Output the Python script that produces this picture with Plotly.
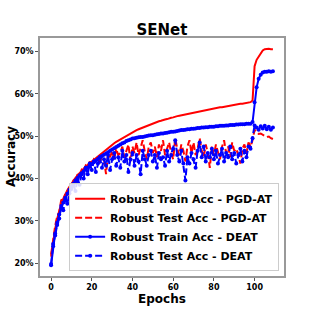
import plotly.graph_objects as go

epochs = list(range(110))

pgd_train = [21.5, 25.0, 28.0, 30.5, 32.5, 34.0, 35.2, 36.3, 37.2, 38.0,
             38.8, 39.5, 40.1, 40.7, 41.3, 41.8, 42.3, 42.8, 43.2, 43.6,
             44.0, 44.4, 44.8, 45.2, 45.6, 46.0, 46.4, 46.8, 47.2, 47.6,
             48.0, 48.3, 48.6, 48.9, 49.2, 49.5, 49.8, 50.1, 50.4, 50.7,
             51.0, 51.2, 51.4, 51.6, 51.8, 52.0, 52.2, 52.4, 52.6, 52.8,
             53.0, 53.2, 53.3, 53.5, 53.6, 53.8, 53.9, 54.0, 54.2, 54.3,
             54.4, 54.6, 54.7, 54.8, 54.9, 55.0, 55.2, 55.3, 55.4, 55.5,
             55.6, 55.7, 55.8, 55.9, 56.0, 56.1, 56.2, 56.3, 56.3, 56.4,
             56.5, 56.6, 56.7, 56.8, 56.8, 56.9, 57.0, 57.1, 57.2, 57.2,
             57.3, 57.4, 57.5, 57.6, 57.6, 57.7, 57.8, 57.9, 58.0, 58.4,
             66.5, 68.0, 68.8, 69.6, 70.2, 70.5, 70.6, 70.6, 70.5, 70.5]

pgd_test = [22.0, 25.5, 28.8, 31.0, 32.0, 35.0, 34.5, 36.5, 37.0, 36.0,
            38.5, 39.5, 39.0, 41.0, 40.5, 42.0, 41.5, 43.0, 42.5, 44.0,
            43.0, 44.5, 44.0, 45.0, 43.5, 45.5, 44.5, 41.0, 46.0, 45.0,
            46.5, 44.5, 47.0, 45.5, 46.0, 47.5, 45.0, 46.5, 48.0, 44.0,
            47.5, 46.0, 48.5, 45.5, 47.0, 49.0, 46.5, 44.5, 47.5, 48.5,
            46.0, 47.5, 45.0, 48.0, 46.5, 49.0, 45.5, 47.0, 48.5, 46.0,
            44.5, 49.5, 47.0, 45.5, 48.0, 46.5, 44.0, 47.5, 49.0, 46.0,
            48.5, 45.5, 47.0, 49.5, 46.5, 45.0, 48.0, 46.0, 42.5, 47.5,
            45.5, 48.0, 46.5, 44.5, 47.5, 49.0, 46.0, 47.5, 45.0, 48.5,
            46.5, 47.0, 45.5, 43.5, 47.0, 48.0, 46.0, 48.5, 47.5, 49.0,
            51.5, 51.0, 50.5, 50.6, 50.2, 50.0, 49.8, 49.9, 49.5, 49.3]

deat_train = [19.5, 24.0, 27.0, 29.5, 31.5, 33.0, 34.3, 35.4, 36.4, 37.3,
              38.1, 38.8, 39.5, 40.1, 40.7, 41.2, 41.7, 42.2, 42.6, 43.0,
              43.4, 43.8, 44.2, 44.6, 45.0, 45.3, 45.6, 45.9, 46.2, 46.5,
              46.8, 47.1, 47.4, 47.7, 48.0, 48.3, 48.5, 48.8, 49.0, 49.2,
              49.4, 49.5, 49.6, 49.7, 49.8, 49.8, 49.9, 50.0, 50.1, 50.2,
              50.2, 50.3, 50.4, 50.5, 50.6, 50.6, 50.7, 50.8, 50.9, 51.0,
              51.0, 51.1, 51.2, 51.3, 51.4, 51.4, 51.5, 51.6, 51.6, 51.7,
              51.7, 51.8, 51.9, 51.9, 52.0, 52.0, 52.1, 52.1, 52.2, 52.2,
              52.2, 52.3, 52.3, 52.4, 52.4, 52.4, 52.5, 52.5, 52.6, 52.6,
              52.6, 52.7, 52.7, 52.8, 52.8, 52.8, 52.9, 52.9, 52.9, 53.3,
              58.0, 61.5, 63.5, 64.5, 65.0, 65.2, 65.2, 65.3, 65.2, 65.3]

deat_test = [19.8, 24.5, 26.5, 29.0, 30.5, 33.5, 32.5, 35.0, 34.0, 36.5,
             37.5, 38.5, 37.0, 40.0, 38.5, 41.0, 40.0, 42.5, 41.0, 43.5,
             42.0, 44.0, 41.5, 43.5, 45.0, 42.5, 44.5, 43.0, 45.5, 42.0,
             44.5, 46.0, 43.0, 45.0, 42.5, 46.5, 44.0, 45.5, 41.5, 44.5,
             46.0, 43.0, 45.5, 44.0, 41.0, 46.5, 44.5, 43.0, 45.5, 46.5,
             44.0, 45.5, 42.5, 46.0, 44.5, 45.0, 43.0, 46.5, 44.0, 45.5,
             47.0, 49.0, 45.5, 44.0, 46.5, 43.5, 39.5, 45.0, 43.5, 46.0,
             44.5, 42.5, 46.5, 48.5, 45.0, 47.5, 44.0, 46.0, 45.0, 47.0,
             44.5, 46.5, 43.5, 45.5, 47.0, 44.0, 46.0, 45.0, 47.5, 44.5,
             46.0, 43.5, 45.5, 47.0, 44.0, 46.5, 45.0, 47.5, 47.0, 49.5,
             52.5, 52.0, 51.5, 52.3, 51.8, 52.4, 51.6, 52.2, 51.5, 52.0]

y_ticks = [20, 30, 40, 50, 60, 70]
y_tick_labels = ["20%", "30%", "40%", "50%", "60%", "70%"]
x_ticks = [0, 20, 40, 60, 80, 100]

series_names = ["Robust Train Acc - PGD-AT", "Robust Test Acc - PGD-AT",
                "Robust Train Acc - DEAT", "Robust Test Acc - DEAT"]

RED = "#ff0000"
BLUE = "#0000ff"
FONT = "DejaVu Sans"

fig = go.Figure()
fig.add_trace(go.Scatter(x=epochs, y=pgd_train, mode="lines", name=series_names[0],
                         line=dict(color=RED, width=2)))
fig.add_trace(go.Scatter(x=epochs, y=pgd_test, mode="lines", name=series_names[1],
                         line=dict(color=RED, width=2, dash="7px,3px")))
fig.add_trace(go.Scatter(x=epochs, y=deat_train, mode="lines+markers", name=series_names[2],
                         line=dict(color=BLUE, width=2), marker=dict(size=4, color=BLUE)))
fig.add_trace(go.Scatter(x=epochs, y=deat_test, mode="lines+markers", name=series_names[3],
                         line=dict(color=BLUE, width=2, dash="7px,3px"), marker=dict(size=4, color=BLUE)))

axis_common = dict(showgrid=False, zeroline=False, showline=True, mirror=True,
                   linecolor="#999999", linewidth=1.5, ticks="outside", ticklen=3,
                   tickcolor="#555555", automargin=False,
                   tickfont=dict(family=FONT, size=8, color="black", weight="bold"))

fig.update_layout(
    width=316, height=316,
    margin=dict(l=40, r=32, t=38, b=40, autoexpand=False),
    paper_bgcolor="white", plot_bgcolor="white",
    font=dict(family=FONT, color="black"),
    title=dict(text="<b>SENet</b>", x=(40 + 284) / 2 / 316, xanchor="center",
               y=1 - 30 / 316, yanchor="middle", yref="container", automargin=False,
               font=dict(family=FONT, size=15, color="black")),
    xaxis=dict(range=[-5.45, 114.45], tickvals=x_ticks,
               title=dict(text="<b>Epochs</b>", font=dict(family=FONT, size=12), standoff=0),
               **axis_common),
    yaxis=dict(range=[16.95, 73.15], tickvals=y_ticks, ticktext=y_tick_labels,
               **axis_common),
    annotations=[dict(text="<b>Accuracy</b>", xref="paper", yref="paper",
                      x=(11 - 40) / 244, y=0.5, xanchor="center", yanchor="middle",
                      textangle=-90, showarrow=False,
                      font=dict(family=FONT, size=12, color="black"))],
    legend=dict(x=0.98, y=0.02, xanchor="right", yanchor="bottom",
                bgcolor="rgba(255,255,255,0.85)", bordercolor="#cccccc", borderwidth=1,
                font=dict(family=FONT, size=11, color="black", weight="bold"),
                tracegroupgap=0, itemwidth=30),
    showlegend=True,
)

fig.write_html("out.html", config={"displayModeBar": False},
               post_script="document.body.style.margin='0';document.body.style.padding='0';")
